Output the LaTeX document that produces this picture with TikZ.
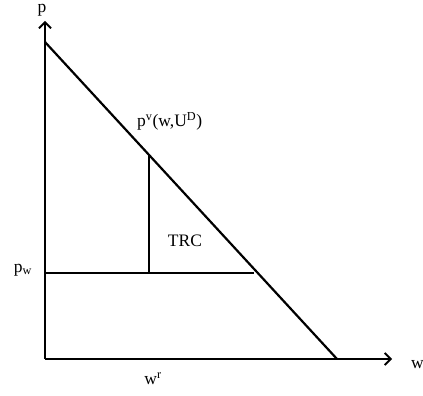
\documentclass[tikz,border=0pt]{standalone}
\usepackage{fontspec}
\setmainfont{Liberation Serif}
\usetikzlibrary{arrows.meta}
\begin{document}
\begin{tikzpicture}[x=1pt,y=1pt,
  axis/.style={line width=2.2pt,-{Straight Barb[length=6pt,width=12pt,line width=1.8pt]}},
  ln/.style={line width=2.2pt},
  lbl/.style={inner sep=0pt,font=\fontsize{17.5}{20}\selectfont}]
\useasboundingbox (0,0) rectangle (423,396);
\coordinate (O) at (45,37);
\coordinate (ytop) at (45,375);
\coordinate (xend) at (392,37);
\coordinate (A) at (45,354);
\coordinate (B) at (337,37);
\coordinate (Vt) at (149,241);
\coordinate (Vb) at (149,123);
\coordinate (Hl) at (45,123);
\coordinate (He) at (254,123);
\draw[axis] (O) -- (ytop);
\draw[axis] (O) -- (xend);
\draw[ln] (A) -- (B);
\draw[ln] (Vt) -- (Vb);
\draw[ln] (Hl) -- (He);
\node[lbl] (lp) at (42,386) {p};
\node[lbl,anchor=base west] (lpv) at (137,269) {p\textsuperscript{v}(w,U\textsuperscript{D})};
\node[lbl] (ltrc) at (185,155) {TRC};
\node[lbl] (lpw) at (23,126) {p\textsubscript{w}};
\node[lbl] (lwr) at (153,17) {w\textsuperscript{r}};
\node[lbl,anchor=west] (lw) at (411,31) {w};
\end{tikzpicture}
\end{document}
